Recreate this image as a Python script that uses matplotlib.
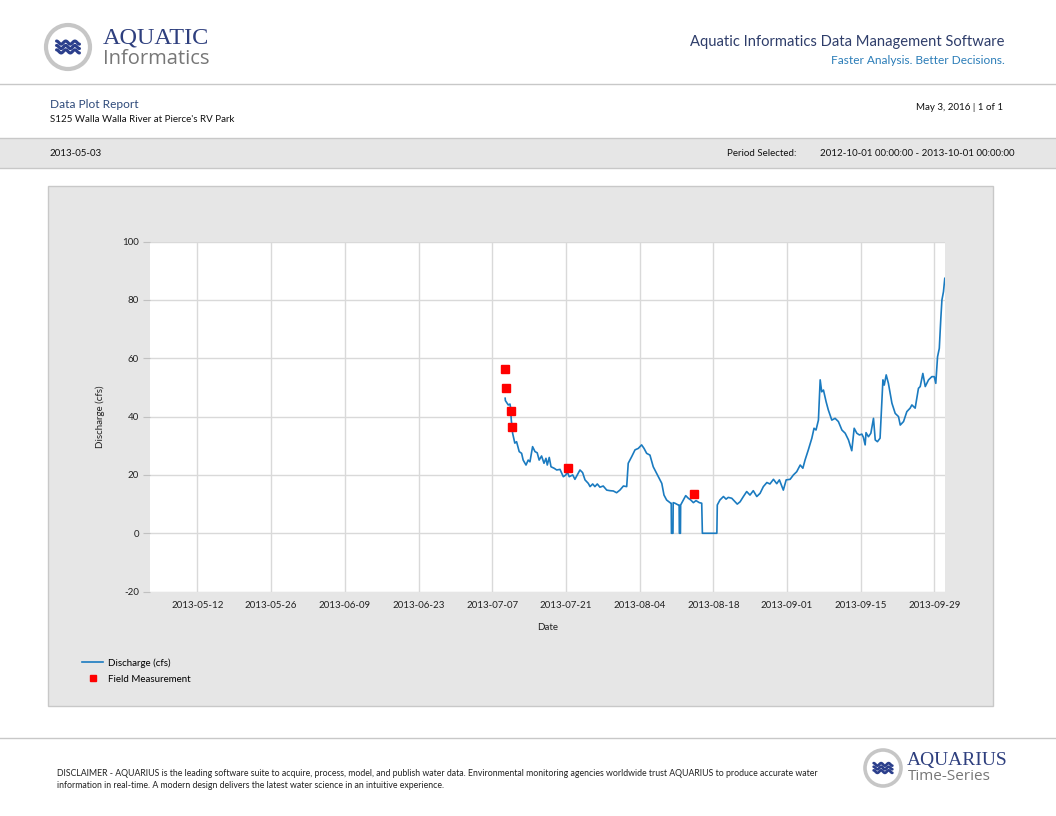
import numpy as np
import pandas as pd
import matplotlib
matplotlib.use("Agg")
import matplotlib.pyplot as plt
import matplotlib.dates as mdates
from matplotlib.patches import Rectangle, Circle

plt.rcParams['font.family'] = ['Lato', 'DejaVu Sans']
plt.rcParams['axes.unicode_minus'] = False

# discharge series (cfs)
flow_times = [
    "2013-07-09 11:00", "2013-07-09 12:00", "2013-07-10 01:00", "2013-07-10 09:00", "2013-07-10 11:00",
    "2013-07-10 15:00", "2013-07-10 21:00", "2013-07-11 07:00", "2013-07-11 15:00", "2013-07-12 03:00",
    "2013-07-12 14:00", "2013-07-12 21:00", "2013-07-13 10:00", "2013-07-13 20:00", "2013-07-14 04:00",
    "2013-07-14 16:00", "2013-07-15 03:00", "2013-07-15 13:00", "2013-07-15 22:00", "2013-07-16 09:00",
    "2013-07-16 20:00", "2013-07-17 05:00", "2013-07-17 11:00", "2013-07-17 20:00", "2013-07-18 04:00",
    "2013-07-18 18:00", "2013-07-19 06:00", "2013-07-19 21:00", "2013-07-20 12:00", "2013-07-21 00:00",
    "2013-07-21 06:00", "2013-07-21 15:00", "2013-07-22 07:00", "2013-07-22 17:00", "2013-07-23 04:00",
    "2013-07-23 16:00", "2013-07-24 04:00", "2013-07-24 15:00", "2013-07-25 06:00", "2013-07-25 14:00",
    "2013-07-26 02:00", "2013-07-26 12:00", "2013-07-26 23:00", "2013-07-27 11:00", "2013-07-28 02:00",
    "2013-07-28 18:00", "2013-07-29 09:00", "2013-07-30 00:00", "2013-07-30 15:00", "2013-07-31 06:00",
    "2013-07-31 22:00", "2013-08-01 13:00", "2013-08-01 20:00", "2013-08-02 12:00", "2013-08-03 03:00",
    "2013-08-03 18:00", "2013-08-04 09:00", "2013-08-04 20:00", "2013-08-05 08:00", "2013-08-05 23:00",
    "2013-08-06 14:00", "2013-08-07 13:00", "2013-08-08 05:00", "2013-08-08 15:00", "2013-08-09 03:00",
    "2013-08-09 22:00", "2013-08-10 00:00", "2013-08-10 01:00", "2013-08-10 08:00", "2013-08-10 09:00",
    "2013-08-10 17:00", "2013-08-11 08:00", "2013-08-11 12:00", "2013-08-11 13:00", "2013-08-11 18:00",
    "2013-08-11 19:00", "2013-08-12 07:00", "2013-08-12 18:00", "2013-08-13 06:00", "2013-08-13 17:00",
    "2013-08-14 05:00", "2013-08-14 17:00", "2013-08-15 08:00", "2013-08-15 19:00", "2013-08-15 22:00",
    "2013-08-18 16:00", "2013-08-18 18:00", "2013-08-19 06:00", "2013-08-19 22:00", "2013-08-20 10:00",
    "2013-08-20 20:00", "2013-08-21 12:00", "2013-08-22 03:00", "2013-08-22 13:00", "2013-08-23 02:00",
    "2013-08-23 17:00", "2013-08-24 08:00", "2013-08-24 23:00", "2013-08-25 14:00", "2013-08-26 06:00",
    "2013-08-26 21:00", "2013-08-27 12:00", "2013-08-28 04:00", "2013-08-28 18:00", "2013-08-29 10:00",
    "2013-08-30 01:00", "2013-08-30 13:00", "2013-08-31 07:00", "2013-08-31 20:00", "2013-09-01 14:00",
    "2013-09-02 05:00", "2013-09-02 20:00", "2013-09-03 12:00", "2013-09-04 00:00", "2013-09-04 10:00",
    "2013-09-05 01:00", "2013-09-05 17:00", "2013-09-06 03:00", "2013-09-06 12:00", "2013-09-06 23:00",
    "2013-09-07 07:00", "2013-09-07 14:00", "2013-09-07 22:00", "2013-09-08 10:00", "2013-09-08 20:00",
    "2013-09-09 12:00", "2013-09-10 03:00", "2013-09-10 18:00", "2013-09-11 10:00", "2013-09-12 01:00",
    "2013-09-12 16:00", "2013-09-13 07:00", "2013-09-13 18:00", "2013-09-14 06:00", "2013-09-14 18:00",
    "2013-09-15 05:00", "2013-09-15 12:00", "2013-09-15 20:00", "2013-09-16 00:00", "2013-09-16 11:00",
    "2013-09-16 22:00", "2013-09-17 10:00", "2013-09-17 18:00", "2013-09-18 04:00", "2013-09-18 16:00",
    "2013-09-19 05:00", "2013-09-19 11:00", "2013-09-19 20:00", "2013-09-20 06:00", "2013-09-20 22:00",
    "2013-09-21 13:00", "2013-09-22 04:00", "2013-09-22 12:00", "2013-09-23 03:00", "2013-09-23 18:00",
    "2013-09-24 09:00", "2013-09-24 17:00", "2013-09-25 08:00", "2013-09-25 23:00", "2013-09-26 07:00",
    "2013-09-26 19:00", "2013-09-27 06:00", "2013-09-27 21:00", "2013-09-28 12:00", "2013-09-28 23:00",
    "2013-09-29 06:00", "2013-09-29 14:00", "2013-09-29 22:00", "2013-09-30 05:00", "2013-09-30 10:00",
    "2013-09-30 17:00", "2013-09-30 23:00",
]
flow_cfs = [
    46.3, 45.5, 44.0, 44.3, 43.4,
    38.8, 34.3, 30.9, 31.4, 28.0,
    27.4, 25.1, 23.4, 25.1, 24.5,
    29.7, 28.0, 27.6, 25.1, 26.5,
    24.0, 25.7, 23.4, 26.0, 22.8,
    22.3, 21.7, 21.9, 19.4, 20.0,
    21.1, 19.4, 20.0, 18.5, 20.0,
    21.7, 20.8, 18.3, 17.1, 16.0,
    16.9, 16.0, 16.9, 15.8, 16.2,
    14.8, 14.6, 14.5, 13.9, 14.8,
    16.2, 16.0, 24.0, 26.3, 28.6,
    29.1, 30.3, 29.1, 27.4, 26.8,
    22.8, 19.4, 17.1, 13.1, 11.4,
    10.3, 10.3, 0.0, 0.0, 10.5,
    10.3, 9.7, 9.7, 0.0, 0.0,
    9.7, 11.4, 12.9, 12.0, 11.4,
    10.5, 11.2, 10.5, 10.3, 0.0,
    0.0, 9.7, 11.4, 12.6, 11.7,
    12.3, 12.0, 10.8, 10.0, 10.8,
    12.6, 14.3, 13.1, 14.6, 12.6,
    13.7, 16.0, 17.4, 16.9, 18.5,
    17.0, 18.3, 14.8, 18.3, 18.5,
    20.0, 21.1, 23.4, 22.3, 25.1,
    28.6, 32.6, 36.0, 35.4, 38.8,
    52.6, 48.5, 49.1, 45.1, 42.3,
    38.8, 39.4, 38.3, 35.4, 34.3,
    32.0, 28.3, 36.0, 34.3, 33.7,
    34.0, 32.9, 30.3, 34.5, 33.1,
    34.3, 39.4, 32.0, 31.4, 32.6,
    52.6, 50.8, 54.3, 51.4, 44.6,
    41.1, 40.0, 37.1, 38.3, 41.7,
    42.9, 44.0, 42.9, 49.7, 50.3,
    54.8, 50.3, 52.6, 53.7, 53.7,
    51.4, 60.5, 63.4, 73.7, 80.0,
    82.8, 87.4,
]

# field measurements
meas_times = ["2013-07-09 10:00", "2013-07-09 13:00", "2013-07-10 12:00",
              "2013-07-10 16:00", "2013-07-21 09:00", "2013-08-14 10:00"]
meas_cfs = [56.3, 49.9, 42.0, 36.4, 22.5, 13.4]

x_ticks = ["2013-05-12", "2013-05-26", "2013-06-09", "2013-06-23", "2013-07-07", "2013-07-21",
           "2013-08-04", "2013-08-18", "2013-09-01", "2013-09-15", "2013-09-29"]
y_ticks = [-20, 0, 20, 40, 60, 80, 100]
x_start, x_end = "2013-05-03", "2013-10-01"

W, H = 1056, 816
navy = '#2e3f7e'
grey_line = '#c8c8c8'
panel = '#e6e6e6'


def fx(px):
    return px / W


def fy(py):
    return 1 - py / H


fig = plt.figure(figsize=(W / 100, H / 100), dpi=100)
fig.patch.set_facecolor('white')

# page layer in pixel units
bg = fig.add_axes([0, 0, 1, 1], zorder=0)
bg.set_xlim(0, W)
bg.set_ylim(H, 0)
bg.axis('off')


def logo(cx, cy, r, lw):
    bg.add_patch(Circle((cx, cy), r, fc='white', ec='#c6c6c6', lw=lw))
    t = np.linspace(-1, 1, 80)
    for k in (-1, 0, 1):
        bg.plot(cx + t * r * 0.52, cy + k * r * 0.2 + np.sin(t * np.pi * 2.5) * r * 0.07,
                color='#2b3f8c', lw=lw * 0.75, solid_capstyle='round')


# header
logo(68, 47, 22, 3.0)
bg.text(103, 38, "AQUATIC", family='Liberation Serif', fontsize=17.5, color=navy, va='center')
bg.text(103, 59, "Informatics", family='Open Sans', fontsize=14.5, color='#777777', va='center')
bg.text(1005, 42, "Aquatic Informatics Data Management Software", fontsize=10.6, color='#2e3d6a',
        ha='right', va='center')
bg.text(1005, 60, "Faster Analysis. Better Decisions.", fontsize=8.6, color='#2b7db8',
        ha='right', va='center')
bg.plot([0, W], [84, 84], color=grey_line, lw=1)

bg.text(50, 105, "Data Plot Report", fontsize=8.6, color='#2e4a7a', va='center')
bg.text(50, 120, "S125 Walla Walla River at Pierce's RV Park", fontsize=7, color='#111111', va='center')
bg.text(1003, 107, "May 3, 2016 | 1 of 1", fontsize=7, color='#111111', ha='right', va='center')

bg.add_patch(Rectangle((0, 138), W, 30, fc=panel, ec='none'))
bg.plot([0, W], [138, 138], color=grey_line, lw=1)
bg.plot([0, W], [168, 168], color=grey_line, lw=1)
bg.text(50, 153, "2013-05-03", fontsize=7, color='#111111', va='center')
bg.text(727, 153, "Period Selected:", fontsize=7, color='#111111', va='center')
bg.text(1014, 153, "2012-10-01 00:00:00 - 2013-10-01 00:00:00", fontsize=7, color='#111111',
        ha='right', va='center')

# chart panel
bg.add_patch(Rectangle((48, 186), 945, 520, fc=panel, ec=grey_line, lw=1))

# footer
bg.plot([0, W], [738, 738], color=grey_line, lw=1)
bg.text(57, 773, "DISCLAIMER - AQUARIUS is the leading software suite to acquire, process, model, and publish water data. "
        "Environmental monitoring agencies worldwide trust AQUARIUS to produce accurate water",
        fontsize=6.3, color='#222222', va='center')
bg.text(57, 785, "information in real-time. A modern design delivers the latest water science in an intuitive experience.",
        fontsize=6.3, color='#222222', va='center')
logo(883, 768, 18, 2.6)
bg.text(907, 760, "AQUARIUS", family='Liberation Serif', fontsize=14, color=navy, va='center')
bg.text(908, 777, "Time-Series", family='Open Sans', fontsize=11, color='#777777', va='center')

# chart
ax = fig.add_axes([fx(150), fy(591.6), fx(945) - fx(150), fy(241.6) - fy(591.6)], zorder=2)
ax.set_facecolor('white')

t_flow = pd.to_datetime(flow_times)
t_meas = pd.to_datetime(meas_times)
ax.plot(t_flow, flow_cfs, color='#1b7bc0', lw=1.2, label='Discharge (cfs)', zorder=3)
ax.plot(t_meas, meas_cfs, ls='none', marker='s', ms=5.5, color='#ff0000', mec='#ff0000',
        label='Field Measurement', zorder=4)

ax.set_xlim(pd.Timestamp(x_start), pd.Timestamp(x_end))
ax.set_ylim(y_ticks[0], y_ticks[-1])
ax.set_xticks(pd.to_datetime(x_ticks))
ax.xaxis.set_major_formatter(mdates.DateFormatter('%Y-%m-%d'))
ax.set_yticks(y_ticks)
ax.grid(True, color='#d9d9d9', lw=1)
ax.set_axisbelow(True)
for s in ax.spines.values():
    s.set_visible(False)
ax.tick_params(axis='y', length=5, color='#c0c0c0', labelsize=7, pad=3, labelcolor='#222222')
ax.tick_params(axis='x', length=0, labelsize=7, pad=7, labelcolor='#222222')
ax.set_xlabel("Date", fontsize=7, color='#222222', labelpad=9)
ax.set_ylabel("Discharge (cfs)", fontsize=7, color='#222222', labelpad=12)

ax.legend(loc='upper left', bbox_to_anchor=(fx(82), fy(658)), bbox_transform=fig.transFigure,
          frameon=False, fontsize=7, handlelength=2.2, handletextpad=0.45, labelspacing=0.75,
          borderpad=0, borderaxespad=0, markerscale=0.9)

fig.savefig('out.png', dpi=100)
